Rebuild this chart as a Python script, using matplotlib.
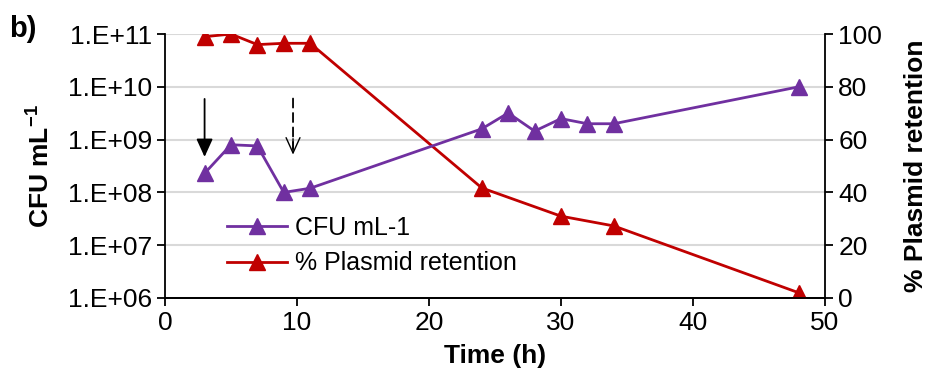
import numpy as np
import matplotlib.pyplot as plt
from matplotlib.lines import Line2D

plt.rcParams['font.family'] = ['Liberation Sans', 'DejaVu Sans']
plt.rcParams['mathtext.fontset'] = 'custom'
plt.rcParams['mathtext.rm'] = 'Liberation Sans'
plt.rcParams['mathtext.bf'] = 'Liberation Sans:bold'

# Data
time_cfu = [3, 5, 7, 9, 11, 24, 26, 28, 30, 32, 34, 48]
cfu = [2.3e8, 8.0e8, 7.6e8, 1.0e8, 1.2e8, 1.6e9, 3.2e9, 1.45e9, 2.5e9, 2.0e9, 2.0e9, 1.0e10]

time_pr = [3, 5, 7, 9, 11, 24, 30, 34, 48]
plasmid = [99, 100, 96, 96.5, 96.5, 41.7, 31, 27.3, 2]

xticks = [0, 10, 20, 30, 40, 50]
yticks_left = [1e6, 1e7, 1e8, 1e9, 1e10, 1e11]
ytick_labels_left = ['1.E+06', '1.E+07', '1.E+08', '1.E+09', '1.E+10', '1.E+11']
yticks_right = [0, 20, 40, 60, 80, 100]

# arrows: (x, y_start, y_end) in data coords of the left axis
arrow_solid = (3, 5.9e9, 4.7e8)
arrow_dashed = (9.7, 6.0e9, 5.2e8)

purple = '#7030A0'
red = '#C00000'
fs = 19

fig = plt.figure(figsize=(9.3, 3.87), dpi=100)
ax = fig.add_axes([0.1774, 0.230, 0.7097, 0.682])
ax2 = ax.twinx()

ax.set_yscale('log')
ax.set_ylim(1e6, 1e11)
ax.set_xlim(0, 50)
ax2.set_ylim(0, 100)

# gridlines on right axis ticks
ax2.set_yticks(yticks_right)
ax2.yaxis.grid(True, color='#D9D9D9', linewidth=1.5)
ax2.set_axisbelow(True)

ax.set_zorder(ax2.get_zorder() + 1)
ax.patch.set_visible(False)

ax2.plot(time_pr, plasmid, color=red, lw=2, marker='^', ms=12, zorder=3)
ax.plot(time_cfu, cfu, color=purple, lw=2, marker='^', ms=12, zorder=3)

ax.set_xticks(xticks)
ax.set_yticks(yticks_left)
ax.set_yticklabels(ytick_labels_left)
ax.yaxis.set_minor_locator(plt.NullLocator())

for a in (ax, ax2):
    a.tick_params(axis='both', direction='out', length=6, width=1.3, labelsize=fs)
    for s in a.spines.values():
        s.set_linewidth(1.3)
    a.spines['top'].set_visible(False)

ax.spines['right'].set_visible(False)
ax2.spines['left'].set_visible(False)

ax.set_xlabel('Time (h)', fontsize=fs, fontweight='bold', labelpad=6)
ax.set_ylabel('CFU mL$^{\\mathbf{-1}}$', fontsize=fs, fontweight='bold', labelpad=10)
ax2.set_ylabel('% Plasmid retention', fontsize=fs, fontweight='bold', labelpad=16)

# arrows
ax.annotate('', xy=(arrow_solid[0], arrow_solid[2]), xytext=(arrow_solid[0], arrow_solid[1]),
            arrowprops=dict(arrowstyle='-|>,head_width=0.5,head_length=1.1', color='black',
                            lw=1.3, shrinkA=0, shrinkB=0))
ax.annotate('', xy=(arrow_dashed[0], arrow_dashed[2]), xytext=(arrow_dashed[0], arrow_dashed[1]),
            arrowprops=dict(arrowstyle='-', color='black', lw=1.3, ls=(0, (5, 3)),
                            shrinkA=0, shrinkB=4))
ax.annotate('', xy=(arrow_dashed[0], arrow_dashed[2]), xytext=(arrow_dashed[0], arrow_dashed[2] * 2.0),
            arrowprops=dict(arrowstyle='->,head_width=0.5,head_length=1.1', color='black',
                            lw=1.0, shrinkA=0, shrinkB=0))

handles = [Line2D([], [], color=purple, lw=2, marker='^', ms=12),
           Line2D([], [], color=red, lw=2, marker='^', ms=12)]
ax.legend(handles, ['CFU mL-1', '% Plasmid retention'], loc='lower left',
          bbox_to_anchor=(0.06, 0.0), frameon=False, fontsize=fs - 1,
          handlelength=2.4, handletextpad=0.3, labelspacing=0.45)

fig.text(0.01, 0.905, 'b)', fontsize=fs + 2, fontweight='bold')

fig.savefig('out.png', dpi=100)
